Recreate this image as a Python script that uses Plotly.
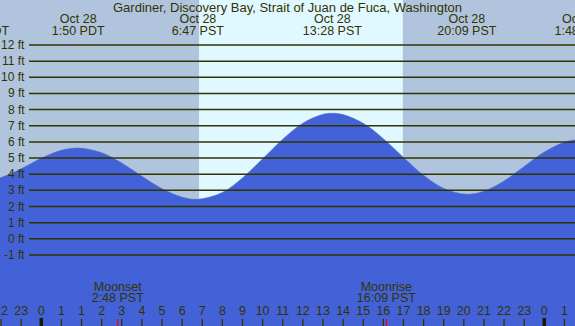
import plotly.graph_objects as go

# ---------------- data (elapsed hours from midnight Oct 28, PDT) ----------------
tide_t = [-2.5, -2, -1, 0, 1, 1.833, 3, 4, 5, 6, 7, 7.783, 9, 10, 11, 12, 13, 14,
          14.467, 15, 16, 17, 18, 19, 20, 21.15, 22, 23, 24, 25, 26, 26.8, 27.3]
tide_ft = [3.62, 3.79, 4.34, 4.99, 5.48, 5.62, 5.33, 4.69, 3.87, 3.10, 2.58, 2.45, 2.87,
           3.77, 4.95, 6.17, 7.16, 7.71, 7.77, 7.69, 7.15, 6.20, 5.04, 3.93, 3.12, 2.76,
           2.95, 3.58, 4.48, 5.37, 5.98, 6.15, 6.10]

event_t = [-3.08, 1.833, 7.783, 14.467, 21.15, 26.8]
event_date = ["Oct 27", "Oct 28", "Oct 28", "Oct 28", "Oct 28", "Oct 29"]
event_time = ["20:55 PDT", "1:50 PDT", "6:47 PST", "13:28 PST", "20:09 PST", "1:48 PST"]

hour_t = list(range(-2, 27))
hour_labels = ["22", "23", "0", "1", "1"] + [str(h) for h in range(2, 24)] + ["0", "1"]
midnight_t = [0, 25]

moon_t = [3.8, 17.15]
moon_name = ["Moonset", "Moonrise"]
moon_time = ["2:48 PST", "16:09 PST"]

sunrise_t, sunset_t = 7.84, 17.97

grid_ft = list(range(-1, 13))
grid_labels = [f"{v} ft" for v in grid_ft]

title = "Gardiner, Discovery Bay, Strait of Juan de Fuca, Washington"

# ---------------- geometry / style ----------------
W, H = 575, 326
X0_PX, PX_PER_H = 41.3, 20.12     # pixel of t=0 and pixels per hour
Y0_PX, PX_PER_FT = 238.8, 16.15   # pixel of 0 ft and pixels per foot

def t_of(px):
    return (px - X0_PX) / PX_PER_H

def ft_of(py):
    return (Y0_PX - py) / PX_PER_FT

SKY = "#b0c4de"
DAY = "#e0f8ff"
WATER = "#4362d8"
INK = "#333300"
FONT = "Liberation Sans"
FS = 12.5

fig = go.Figure()

# baseline for filling
base_y = ft_of(H + 20)
fig.add_trace(go.Scatter(x=[tide_t[0], tide_t[-1]], y=[base_y, base_y], mode="lines",
                         line=dict(width=0, color=WATER), hoverinfo="skip", showlegend=False))
fig.add_trace(go.Scatter(x=tide_t, y=tide_ft, mode="lines", fill="tonexty",
                         fillcolor=WATER, line=dict(color=WATER, width=0.5, shape="spline", smoothing=1.0),
                         hoverinfo="skip", showlegend=False))

def text_row(xs, py, texts, size=FS):
    fig.add_trace(go.Scatter(x=xs, y=[ft_of(py)] * len(xs), mode="text",
                             text=texts, textposition="middle center",
                             textfont=dict(family=FONT, size=size, color=INK),
                             cliponaxis=True, hoverinfo="skip", showlegend=False))

# event labels (two rows)
text_row(event_t, 19.5, event_date)
text_row(event_t, 31.5, event_time)
# hour labels
text_row(hour_t, 311.5, hour_labels)
# moon labels
text_row(moon_t, 287.5, moon_name)
text_row(moon_t, 299, moon_time)

shapes = []
# daylight band
shapes.append(dict(type="rect", xref="x", yref="paper", x0=sunrise_t, x1=sunset_t, y0=0, y1=1,
                   fillcolor=DAY, line=dict(width=0), layer="below"))
# grid lines
for v in grid_ft:
    shapes.append(dict(type="line", xref="paper", yref="y", x0=29 / W, x1=1, y0=v, y1=v,
                       line=dict(color=INK, width=1.5), layer="above"))
# hour ticks
tick_h = 7 / H
for t in hour_t:
    if t in midnight_t:
        continue
    shapes.append(dict(type="line", xref="x", yref="paper", x0=t, x1=t, y0=0, y1=tick_h,
                       line=dict(color=INK, width=1.3), layer="above"))
for t in midnight_t:
    shapes.append(dict(type="line", xref="x", yref="paper", x0=t, x1=t, y0=0, y1=8 / H,
                       line=dict(color="#1a1a00", width=3.5), layer="above"))
for t in moon_t:
    shapes.append(dict(type="line", xref="x", yref="paper", x0=t, x1=t, y0=0, y1=tick_h,
                       line=dict(color="#ff0000", width=1.3), layer="above"))

annotations = [dict(text=title, xref="paper", yref="paper", x=0.5, y=1 - 7.5 / H,
                    xanchor="center", yanchor="middle", showarrow=False,
                    font=dict(family=FONT, size=13, color=INK))]
for v, lab in zip(grid_ft, grid_labels):
    annotations.append(dict(text=lab, xref="paper", yref="y", x=27 / W, y=v,
                            xanchor="right", yanchor="middle", showarrow=False,
                            font=dict(family=FONT, size=12, color=INK)))

fig.update_layout(
    width=W, height=H, margin=dict(l=0, r=0, t=0, b=0),
    paper_bgcolor=SKY, plot_bgcolor=SKY,
    xaxis=dict(range=[t_of(0), t_of(W)], visible=False, fixedrange=True),
    yaxis=dict(range=[ft_of(H), ft_of(0)], visible=False, fixedrange=True),
    shapes=shapes, annotations=annotations, showlegend=False,
)

fig.write_html("out.html", config={"displayModeBar": False},
               post_script="document.body.style.margin='0';document.body.style.overflow='hidden';")
